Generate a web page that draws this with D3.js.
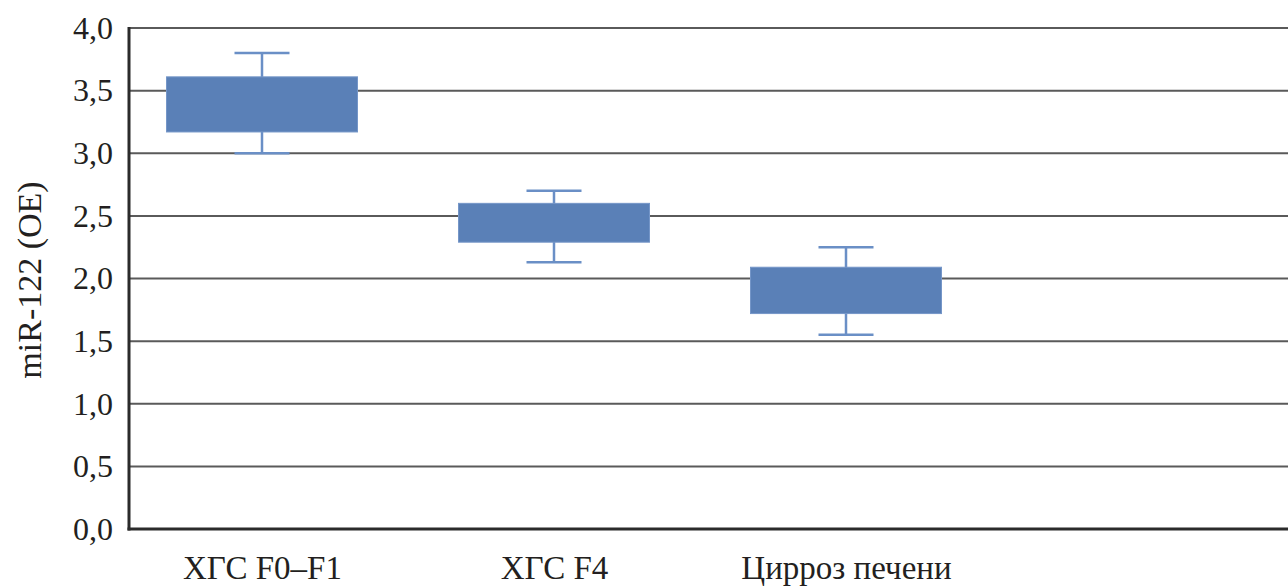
<!DOCTYPE html>
<html>
<head>
<meta charset="utf-8">
<script src="https://cdn.jsdelivr.net/npm/d3@7"></script>
<style>
html,body{margin:0;padding:0;background:#fff;}
svg{display:block;}
text{font-family:"Liberation Serif","Times New Roman",serif;fill:#231f20;}
</style>
</head>
<body>
<svg id="chart" width="1288" height="586"></svg>
<script>
const categories = ["ХГС F0–F1", "ХГС F4", "Цирроз печени"];
const whiskerLow  = [3.00, 2.13, 1.55];
const boxLow      = [3.17, 2.29, 1.72];
const boxHigh     = [3.61, 2.60, 2.09];
const whiskerHigh = [3.80, 2.70, 2.25];
const yTicks = [0, 0.5, 1.0, 1.5, 2.0, 2.5, 3.0, 3.5, 4.0];
const yTitle = "miR-122 (OE)";

const svg = d3.select("#chart");
const mLeft = 129, mRight = 1288, mTop = 28, mBottom = 529;

const y = d3.scaleLinear().domain([0, 4]).range([mBottom, mTop]);
const x = d3.scalePoint().domain(categories).range([262, 846]);
const boxW = 191, capW = 55;
const boxColor = "#5a80b7";

// gridlines
svg.append("g").selectAll("line").data(yTicks.filter(d => d > 0)).join("line")
  .attr("x1", mLeft).attr("x2", mRight)
  .attr("y1", d => y(d)).attr("y2", d => y(d))
  .attr("stroke", "#5a5a5a").attr("stroke-width", 2);

// y tick labels via axis
const yAxis = d3.axisLeft(y).tickValues(yTicks).tickSize(0).tickPadding(16)
  .tickFormat(d => d3.format(".1f")(d).replace(".", ","));
const gy = svg.append("g").attr("transform", `translate(${mLeft},0)`).call(yAxis);
gy.select(".domain").remove();
gy.selectAll("text").attr("font-size", 32).attr("font-family", '"Liberation Serif",serif').attr("fill", "#231f20");

// x labels via axis
const xAxis = d3.axisBottom(x).tickSize(0).tickPadding(0);
const gx = svg.append("g").attr("transform", `translate(0,${mBottom})`).call(xAxis);
gx.select(".domain").remove();
gx.selectAll("text").attr("font-size", 33).attr("font-family", '"Liberation Serif",serif')
  .attr("fill", "#231f20").attr("dy", null).attr("y", 50);

// axes lines
svg.append("line").attr("x1", mLeft).attr("x2", mLeft).attr("y1", mTop - 1).attr("y2", mBottom + 1.5)
  .attr("stroke", "#2b2b2b").attr("stroke-width", 3);
svg.append("line").attr("x1", mLeft - 1.5).attr("x2", mRight).attr("y1", mBottom).attr("y2", mBottom)
  .attr("stroke", "#2b2b2b").attr("stroke-width", 3);

// boxes
const data = categories.map((c, i) => ({c, wl: whiskerLow[i], bl: boxLow[i], bh: boxHigh[i], wh: whiskerHigh[i]}));
const g = svg.append("g").selectAll("g").data(data).join("g");
g.append("line").attr("x1", d => x(d.c)).attr("x2", d => x(d.c))
  .attr("y1", d => y(d.wh)).attr("y2", d => y(d.wl))
  .attr("stroke", "#6a8fc6").attr("stroke-width", 2.5);
g.append("line").attr("x1", d => x(d.c) - capW / 2).attr("x2", d => x(d.c) + capW / 2)
  .attr("y1", d => y(d.wh)).attr("y2", d => y(d.wh))
  .attr("stroke", "#6a8fc6").attr("stroke-width", 2.5);
g.append("line").attr("x1", d => x(d.c) - capW / 2).attr("x2", d => x(d.c) + capW / 2)
  .attr("y1", d => y(d.wl)).attr("y2", d => y(d.wl))
  .attr("stroke", "#6a8fc6").attr("stroke-width", 2.5);
g.append("rect").attr("x", d => x(d.c) - boxW / 2).attr("width", boxW)
  .attr("y", d => y(d.bh)).attr("height", d => y(d.bl) - y(d.bh))
  .attr("fill", boxColor).attr("stroke", "#7596c8").attr("stroke-width", 1);

// y title
svg.append("text").attr("transform", `translate(41,${280}) rotate(-90)`)
  .attr("text-anchor", "middle").attr("font-size", 34).text(yTitle);
</script>
</body>
</html>
